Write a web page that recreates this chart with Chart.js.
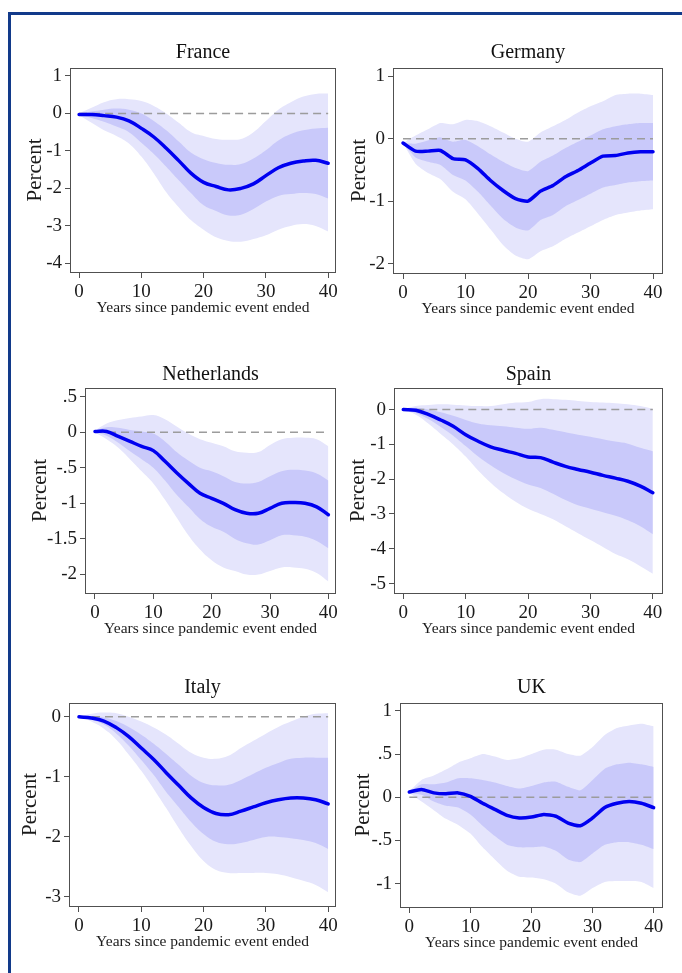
<!DOCTYPE html>
<html>
<head>
<meta charset="utf-8">
<script src="https://cdn.jsdelivr.net/npm/chart.js@4"></script>
<style>
  html, body { margin: 0; padding: 0; background: #fff; overflow: hidden; }
  body { width: 682px; height: 973px; position: relative; }
  #cadre { position: absolute; left: 8px; top: 12px; width: 700px; height: 1000px;
           border-left: 3px solid #123a8a; border-top: 3px solid #123a8a; }
  canvas { position: absolute; }
</style>
</head>
<body>
<div id="cadre"></div>
<script>
// Années depuis la fin de la pandémie (axe X)
const annees = [0, 2, 4, 6, 8, 10, 12, 14, 16, 18, 20, 22, 24, 26, 28, 30, 32, 34, 36, 38, 40];
const xTicks = [0, 10, 20, 30, 40];
const bornesZero = [0, 40];
const ligneZero = [0, 0];

// France
const franceLigne   = [-0.03, -0.03, -0.06, -0.1, -0.2, -0.4, -0.63, -0.93, -1.26, -1.6, -1.84, -1.95, -2.04, -2.0, -1.88, -1.66, -1.45, -1.33, -1.27, -1.25, -1.33];
const franceIntHaut = [0, 0.05, 0.1, 0.13, 0.1, 0.0, -0.2, -0.45, -0.75, -1.05, -1.22, -1.32, -1.37, -1.35, -1.2, -0.98, -0.72, -0.55, -0.45, -0.4, -0.38];
const franceIntBas  = [-0.05, -0.12, -0.22, -0.35, -0.5, -0.78, -1.08, -1.42, -1.78, -2.13, -2.45, -2.6, -2.72, -2.7, -2.55, -2.35, -2.2, -2.15, -2.12, -2.15, -2.27];
const franceExtHaut = [0, 0.15, 0.3, 0.38, 0.38, 0.33, 0.2, 0.0, -0.25, -0.5, -0.6, -0.68, -0.7, -0.68, -0.5, -0.2, 0.1, 0.3, 0.45, 0.52, 0.53];
const franceExtBas  = [-0.05, -0.25, -0.45, -0.6, -0.8, -1.15, -1.6, -2.1, -2.5, -2.85, -3.1, -3.3, -3.4, -3.42, -3.35, -3.25, -3.1, -3.0, -2.95, -3.0, -3.15];
const franceYTicks  = [1, 0, -1, -2, -3, -4];

// Allemagne
const allemagneLigne   = [-0.07, -0.2, -0.2, -0.19, -0.32, -0.34, -0.48, -0.67, -0.83, -0.96, -1.0, -0.84, -0.75, -0.61, -0.51, -0.39, -0.28, -0.27, -0.23, -0.21, -0.21];
const allemagneIntHaut = [-0.07, -0.08, -0.03, 0.02, -0.05, -0.02, -0.12, -0.25, -0.37, -0.47, -0.52, -0.37, -0.27, -0.15, -0.05, 0.05, 0.15, 0.2, 0.23, 0.25, 0.25];
const allemagneIntBas  = [-0.07, -0.3, -0.37, -0.42, -0.58, -0.67, -0.85, -1.07, -1.28, -1.42, -1.47, -1.3, -1.22, -1.08, -0.98, -0.88, -0.78, -0.74, -0.7, -0.68, -0.67];
const allemagneExtHaut = [-0.07, 0.05, 0.15, 0.25, 0.23, 0.3, 0.28, 0.2, 0.1, 0.0, -0.05, 0.1, 0.2, 0.3, 0.42, 0.52, 0.6, 0.7, 0.72, 0.72, 0.7];
const allemagneExtBas  = [-0.07, -0.4, -0.55, -0.65, -0.85, -0.97, -1.2, -1.45, -1.7, -1.87, -1.93, -1.8, -1.72, -1.6, -1.5, -1.4, -1.3, -1.22, -1.18, -1.15, -1.13];
const allemagneYTicks  = [1, 0, -1, -2];

// Pays-Bas
const paysBasLigne   = [0.01, 0.01, -0.06, -0.13, -0.2, -0.26, -0.41, -0.57, -0.72, -0.86, -0.93, -1.0, -1.09, -1.14, -1.14, -1.07, -1.0, -0.99, -1.0, -1.05, -1.16];
const paysBasIntHaut = [0.02, 0.07, 0.06, 0.03, 0.01, -0.02, -0.13, -0.28, -0.4, -0.5, -0.55, -0.62, -0.7, -0.72, -0.7, -0.62, -0.55, -0.53, -0.54, -0.58, -0.68];
const paysBasIntBas  = [0.0, -0.05, -0.15, -0.27, -0.38, -0.5, -0.68, -0.88, -1.05, -1.22, -1.33, -1.4, -1.5, -1.56, -1.58, -1.52, -1.45, -1.45, -1.47, -1.53, -1.63];
const paysBasExtHaut = [0.02, 0.12, 0.17, 0.2, 0.22, 0.24, 0.18, 0.08, -0.02, -0.1, -0.15, -0.2, -0.27, -0.29, -0.28, -0.18, -0.1, -0.08, -0.08, -0.1, -0.2];
const paysBasExtBas  = [0.0, -0.1, -0.22, -0.38, -0.55, -0.72, -0.95, -1.2, -1.45, -1.65, -1.8, -1.9, -1.95, -2.0, -2.0, -1.95, -1.9, -1.9, -1.92, -1.98, -2.1];
const paysBasYTicks  = [0.5, 0, -0.5, -1, -1.5, -2];

// Espagne
const espagneLigne   = [0, -0.02, -0.14, -0.3, -0.48, -0.72, -0.91, -1.07, -1.17, -1.26, -1.36, -1.38, -1.51, -1.63, -1.72, -1.8, -1.89, -1.97, -2.06, -2.2, -2.39];
const espagneIntHaut = [0, 0.05, 0.0, -0.08, -0.18, -0.3, -0.4, -0.45, -0.48, -0.52, -0.55, -0.52, -0.58, -0.65, -0.72, -0.78, -0.85, -0.92, -0.98, -1.1, -1.2];
const espagneIntBas  = [0, -0.1, -0.27, -0.5, -0.75, -1.05, -1.35, -1.6, -1.82, -2.0, -2.15, -2.25, -2.42, -2.6, -2.75, -2.85, -2.95, -3.05, -3.18, -3.35, -3.58];
const espagneExtHaut = [0, 0.1, 0.13, 0.15, 0.14, 0.12, 0.1, 0.1, 0.15, 0.2, 0.22, 0.3, 0.3, 0.28, 0.25, 0.22, 0.2, 0.18, 0.15, 0.1, 0.02];
const espagneExtBas  = [0, -0.15, -0.4, -0.7, -1.0, -1.35, -1.75, -2.1, -2.4, -2.65, -2.85, -3.0, -3.15, -3.35, -3.55, -3.75, -3.95, -4.15, -4.3, -4.5, -4.72];
const espagneYTicks  = [0, -1, -2, -3, -4, -5];

// Italie
const italieLigne   = [0, -0.02, -0.07, -0.18, -0.33, -0.52, -0.71, -0.93, -1.14, -1.35, -1.51, -1.61, -1.63, -1.57, -1.5, -1.43, -1.38, -1.35, -1.35, -1.38, -1.45];
const italieIntHaut = [0, 0.01, -0.01, -0.07, -0.17, -0.3, -0.45, -0.62, -0.8, -0.98, -1.1, -1.14, -1.13, -1.05, -0.95, -0.85, -0.77, -0.7, -0.68, -0.68, -0.68];
const italieIntBas  = [0, -0.05, -0.13, -0.28, -0.48, -0.72, -0.97, -1.25, -1.5, -1.75, -1.95, -2.08, -2.12, -2.1, -2.05, -2.0, -2.0, -2.02, -2.05, -2.1, -2.2];
const italieExtHaut = [0, 0.05, 0.07, 0.06, 0.0, -0.08, -0.18, -0.3, -0.45, -0.6, -0.68, -0.7, -0.65, -0.52, -0.4, -0.28, -0.17, -0.08, 0.0, 0.05, 0.06];
const italieExtBas  = [0, -0.08, -0.2, -0.38, -0.63, -0.9, -1.2, -1.52, -1.85, -2.15, -2.4, -2.55, -2.6, -2.6, -2.6, -2.6, -2.62, -2.67, -2.73, -2.8, -2.92];
const italieYTicks  = [0, -1, -2, -3];

// Royaume-Uni
const ukLigne   = [0.06, 0.09, 0.05, 0.04, 0.05, 0.01, -0.07, -0.14, -0.21, -0.24, -0.23, -0.2, -0.22, -0.3, -0.33, -0.24, -0.12, -0.07, -0.05, -0.07, -0.12];
const ukIntHaut = [0.06, 0.15, 0.15, 0.17, 0.22, 0.22, 0.2, 0.17, 0.13, 0.1, 0.13, 0.17, 0.18, 0.12, 0.08, 0.2, 0.33, 0.38, 0.4, 0.38, 0.35];
const ukIntBas  = [0.05, 0.03, -0.05, -0.1, -0.12, -0.2, -0.33, -0.45, -0.55, -0.58, -0.58, -0.57, -0.62, -0.72, -0.75, -0.65, -0.55, -0.52, -0.52, -0.55, -0.6];
const ukExtHaut = [0.07, 0.2, 0.25, 0.32, 0.4, 0.45, 0.5, 0.47, 0.43, 0.45, 0.5, 0.55, 0.55, 0.5, 0.48, 0.58, 0.72, 0.8, 0.83, 0.85, 0.82];
const ukExtBas  = [0.05, -0.05, -0.15, -0.25, -0.32, -0.42, -0.58, -0.72, -0.85, -0.92, -0.93, -0.95, -1.0, -1.1, -1.14, -1.05, -0.98, -0.97, -0.97, -0.98, -1.05];
const ukYTicks  = [1, 0.5, 0, -0.5, -1];

// Mise en page des 6 graphiques (zone de tracé en pixels : gauche, haut, droite, bas)
const panneaux = [
  { titre: 'France', ligne: franceLigne, ih: franceIntHaut, ib: franceIntBas, eh: franceExtHaut, eb: franceExtBas,
    yTicks: franceYTicks, yMin: -4.23, yMax: 1.21, xMin: -1.3, xMax: 41.1, zone: [71, 68, 335, 272], ecartPercent: 36, ecartTitre: 15, tension: 0.4 },
  { titre: 'Germany', ligne: allemagneLigne, ih: allemagneIntHaut, ib: allemagneIntBas, eh: allemagneExtHaut, eb: allemagneExtBas,
    yTicks: allemagneYTicks, yMin: -2.15, yMax: 1.13, xMin: -1.44, xMax: 41.44, zone: [394, 68, 662, 273], ecartPercent: 35, ecartTitre: 15, tension: 0.2 },
  { titre: 'Netherlands', ligne: paysBasLigne, ih: paysBasIntHaut, ib: paysBasIntBas, eh: paysBasExtHaut, eb: paysBasExtBas,
    yTicks: paysBasYTicks, yMin: -2.26, yMax: 0.62, xMin: -1.54, xMax: 41.14, zone: [86, 388, 335, 593], ecartPercent: 46, ecartTitre: 13, tension: 0.4 },
  { titre: 'Spain', ligne: espagneLigne, ih: espagneIntHaut, ib: espagneIntBas, eh: espagneExtHaut, eb: espagneExtBas,
    yTicks: espagneYTicks, yMin: -5.27, yMax: 0.62, xMin: -1.33, xMax: 41.47, zone: [395, 388, 662, 593], ecartPercent: 37, ecartTitre: 13, tension: 0.4 },
  { titre: 'Italy', ligne: italieLigne, ih: italieIntHaut, ib: italieIntBas, eh: italieExtHaut, eb: italieExtBas,
    yTicks: italieYTicks, yMin: -3.15, yMax: 0.23, xMin: -1.44, xMax: 41.1, zone: [70, 703, 335, 906], ecartPercent: 40, ecartTitre: 15, tension: 0.4 },
  { titre: 'UK', ligne: ukLigne, ih: ukIntHaut, ib: ukIntBas, eh: ukExtHaut, eb: ukExtBas,
    yTicks: ukYTicks, yMin: -1.27, yMax: 1.09, xMin: -1.36, xMax: 41.37, zone: [401, 703, 662, 907], ecartPercent: 38, ecartTitre: 15, tension: 0.2 }
];

const police = 'Liberation Serif, Times New Roman, serif';
const AXE_Y = 60, AXE_X = 46, MARGE_D = 14;

// format Stata : .5 au lieu de 0.5
const formatStata = v => String(v).replace('0.', '.');

// cadre gris autour de la zone de tracé
const cadrePlot = {
  id: 'cadrePlot',
  afterDraw(chart) {
    const a = chart.chartArea, ctx = chart.ctx;
    ctx.save();
    ctx.strokeStyle = '#505050';
    ctx.lineWidth = 1;
    ctx.strokeRect(a.left - 0.5, a.top + 0.5, a.right - a.left + 1, a.bottom - a.top);
    ctx.restore();
  }
};

function dessinerPanneau(p) {
  const [L, T, R, B] = p.zone;
  const hautTitre = 12 + p.ecartTitre;
  const canvas = document.createElement('canvas');
  canvas.width = (R - L) + AXE_Y + MARGE_D;
  canvas.height = hautTitre + (B - T) + AXE_X;
  canvas.style.left = (L - AXE_Y) + 'px';
  canvas.style.top = (T - hautTitre) + 'px';
  document.body.appendChild(canvas);

  const pts = vals => annees.map((x, i) => ({ x: x, y: vals[i] }));
  const bande = { pointRadius: 0, borderWidth: 0, borderColor: 'rgba(0,0,0,0)', tension: p.tension };

  new Chart(canvas.getContext('2d'), {
    type: 'line',
    data: {
      datasets: [
        { data: pts(p.ligne), borderColor: '#0000f0', borderWidth: 3.5, pointRadius: 0,
          tension: p.tension, borderCapStyle: 'round', fill: false },
        { data: bornesZero.map((x, i) => ({ x: x, y: ligneZero[i] })), borderColor: '#9c9c9c',
          borderWidth: 1.5, borderDash: [8, 5], pointRadius: 0, fill: false },
        Object.assign({ data: pts(p.ih), backgroundColor: '#c9c9fa', fill: '+1' }, bande),
        Object.assign({ data: pts(p.ib), fill: false }, bande),
        Object.assign({ data: pts(p.eh), backgroundColor: '#e5e5fc', fill: '+1' }, bande),
        Object.assign({ data: pts(p.eb), fill: false }, bande)
      ]
    },
    options: {
      responsive: false,
      animation: false,
      layout: { padding: { left: 0, top: 0, right: MARGE_D, bottom: 0 } },
      plugins: {
        legend: { display: false },
        tooltip: { enabled: false },
        title: {
          display: true, text: p.titre, color: '#111', fullSize: false,
          font: { family: police, size: 20, weight: 'normal', lineHeight: 1.2 },
          padding: { top: 0, bottom: p.ecartTitre - 12 }
        }
      },
      scales: {
        x: {
          type: 'linear', min: p.xMin, max: p.xMax,
          afterBuildTicks: s => { s.ticks = xTicks.map(v => ({ value: v })); },
          afterFit: s => { s.height = AXE_X; },
          grid: { drawOnChartArea: false, drawTicks: true, tickLength: 6, color: '#505050' },
          border: { display: false },
          ticks: { font: { family: police, size: 19 }, color: '#1a1a1a', maxRotation: 0, autoSkip: false, padding: 3 },
          title: { display: true, text: 'Years since pandemic event ended', color: '#1a1a1a',
                   font: { family: police, size: 15.5, lineHeight: 1.2 }, padding: { top: 0, bottom: 1 } }
        },
        y: {
          type: 'linear', min: p.yMin, max: p.yMax,
          afterBuildTicks: s => { s.ticks = p.yTicks.map(v => ({ value: v })); },
          afterFit: s => { s.width = AXE_Y; },
          grid: { drawOnChartArea: false, drawTicks: true, tickLength: 6, color: '#505050' },
          border: { display: false },
          ticks: { font: { family: police, size: 19 }, color: '#1a1a1a', padding: 3, callback: v => formatStata(v) },
          title: { display: true, text: 'Percent', color: '#1a1a1a',
                   font: { family: police, size: 21, lineHeight: 1.2 },
                   padding: { top: AXE_Y - p.ecartPercent - 12.6, bottom: 0 } }
        }
      }
    },
    plugins: [cadrePlot]
  });
}

panneaux.forEach(dessinerPanneau);
</script>
</body>
</html>
